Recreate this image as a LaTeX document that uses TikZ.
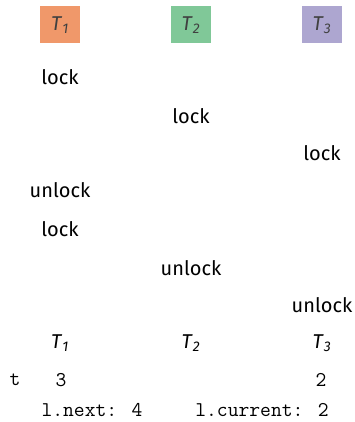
\documentclass[tikz,border=0pt]{standalone}
\usepackage{fontspec}
\setmainfont{Fira Sans}
\usepackage{tikz}

\definecolor{tone}{HTML}{F0986A}
\definecolor{ttwo}{HTML}{80C898}
\definecolor{tthree}{HTML}{ADA6D0}

\newcommand{\thr}[1]{\textit{T}\textsubscript{\textit{#1}}}

\begin{document}
\begin{tikzpicture}[
    x=1pt, y=-1pt,
    thread/.style={minimum width=40pt, minimum height=37pt, inner sep=0pt, text=black!75, font=\fontsize{20}{24}\selectfont},
    op/.style={inner sep=0pt, font=\fontsize{20}{24}\selectfont},
    label/.style={inner sep=0pt, font=\fontsize{20}{24}\selectfont},
    code/.style={inner sep=0pt, font=\ttfamily\fontsize{21}{25}\selectfont},
    baseline=(current bounding box.center)
]
    \useasboundingbox (0,0) rectangle (354,422);
    \node[thread, fill=tone] (t1) at (60.00, 25.00) {\thr{1}};
    \node[thread, fill=ttwo] (t2) at (191.00, 25.00) {\thr{2}};
    \node[thread, fill=tthree] (t3) at (322.00, 25.00) {\thr{3}};

    \node[op] (lock1) at (60.00, 77.00) {lock};
    \node[op] (lock2) at (191.00, 116.00) {lock};
    \node[op] (lock3) at (322.00, 153.00) {lock};
    \node[op] (unlock1) at (60.00, 190.00) {unlock};
    \node[op] (lock4) at (60.00, 229.00) {lock};
    \node[op] (unlock2) at (191.00, 268.00) {unlock};
    \node[op] (unlock3) at (322.00, 305.00) {unlock};

    \node[label] (n1) at (60.00, 343.00) {\thr{1}};
    \node[label] (n2) at (191.00, 343.00) {\thr{2}};
    \node[label] (n3) at (322.00, 343.00) {\thr{3}};

    \node[code] (t) at (15.00, 380.00) {t};
    \node[code] (v1) at (61.00, 380.00) {3};
    \node[code] (v3) at (321.00, 380.00) {2};
    \node[code] (next) at (92.00, 410.00) {l.next: 4};
    \node[code] (current) at (262.00, 410.00) {l.current: 2};
\end{tikzpicture}
\end{document}
